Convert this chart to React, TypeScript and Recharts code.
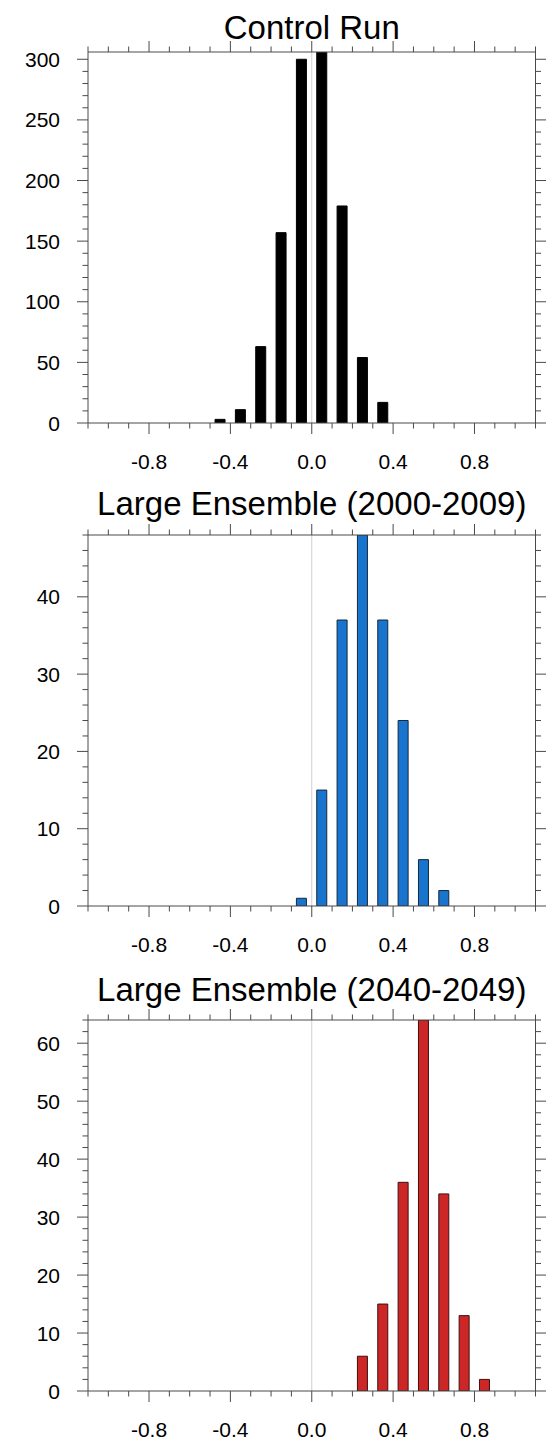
import React from "react";
import { BarChart, Bar, XAxis, YAxis, ReferenceLine } from "recharts";

// x axis (bin centres in deg C)
const xTicks = [
  -1.1, -1.0, -0.9, -0.8, -0.7, -0.6, -0.5, -0.4, -0.3, -0.2, -0.1, 0,
  0.1, 0.2, 0.3, 0.4, 0.5, 0.6, 0.7, 0.8, 0.9, 1.0, 1.1,
];
const xMajorTicks = [-0.8, -0.4, 0, 0.4, 0.8];
const xTickLabels = ["-0.8", "-0.4", "0.0", "0.4", "0.8"];

// Control Run
const controlBins = [-0.45, -0.35, -0.25, -0.15, -0.05, 0.05, 0.15, 0.25, 0.35];
const controlCounts = [3, 11, 63, 157, 300, 306, 179, 54, 17];
const controlYTicks = [
  0, 10, 20, 30, 40, 50, 60, 70, 80, 90, 100, 110, 120, 130, 140, 150, 160,
  170, 180, 190, 200, 210, 220, 230, 240, 250, 260, 270, 280, 290, 300,
];
const controlYMajor = [0, 50, 100, 150, 200, 250, 300];

// Large Ensemble 2000-2009
const le2000Bins = [-0.05, 0.05, 0.15, 0.25, 0.35, 0.45, 0.55, 0.65];
const le2000Counts = [1, 15, 37, 48, 37, 24, 6, 2];
const le2000YTicks = [
  0, 2, 4, 6, 8, 10, 12, 14, 16, 18, 20, 22, 24, 26, 28, 30, 32, 34, 36, 38,
  40, 42, 44, 46, 48,
];
const le2000YMajor = [0, 10, 20, 30, 40];

// Large Ensemble 2040-2049
const le2040Bins = [0.25, 0.35, 0.45, 0.55, 0.65, 0.75, 0.85];
const le2040Counts = [6, 15, 36, 64, 34, 13, 2];
const le2040YTicks = [
  0, 2, 4, 6, 8, 10, 12, 14, 16, 18, 20, 22, 24, 26, 28, 30, 32, 34, 36, 38,
  40, 42, 44, 46, 48, 50, 52, 54, 56, 58, 60, 62, 64,
];
const le2040YMajor = [0, 10, 20, 30, 40, 50, 60];

const FONT = "'Liberation Sans', Arial, Helvetica, sans-serif";
const AXIS = "#4a4a4a";
const MAJOR = 11;
const MINOR = 5.5;

const isIn = (v: number, list: number[]) => list.some((m) => Math.abs(m - v) < 1e-6);

const BottomTick = (props: any) => {
  const { x, y, payload } = props;
  const i = xMajorTicks.findIndex((m) => Math.abs(m - payload.value) < 1e-6);
  const major = i >= 0;
  return (
    <g>
      <line x1={x} x2={x} y1={y} y2={y + (major ? MAJOR : MINOR)} stroke={AXIS} strokeWidth={1} />
      {major && (
        <text x={x} y={y + 46} textAnchor="middle" fontSize={21} fontFamily={FONT} fill="#000">
          {xTickLabels[i]}
        </text>
      )}
    </g>
  );
};

const TopTick = (props: any) => {
  const { x, y, payload } = props;
  const major = isIn(payload.value, xMajorTicks);
  return <line x1={x} x2={x} y1={y} y2={y - (major ? MAJOR : MINOR)} stroke={AXIS} strokeWidth={1} />;
};

const makeLeftTick = (majors: number[]) => (props: any) => {
  const { x, y, payload } = props;
  const major = isIn(payload.value, majors);
  return (
    <g>
      <line x1={x} x2={x - (major ? MAJOR : MINOR)} y1={y} y2={y} stroke={AXIS} strokeWidth={1} />
      {major && (
        <text x={x - 28} y={y + 7.5} textAnchor="end" fontSize={21} fontFamily={FONT} fill="#000">
          {String(payload.value)}
        </text>
      )}
    </g>
  );
};

const makeRightTick = (majors: number[]) => (props: any) => {
  const { x, y, payload } = props;
  const major = isIn(payload.value, majors);
  return <line x1={x} x2={x + (major ? MAJOR : MINOR)} y1={y} y2={y} stroke={AXIS} strokeWidth={1} />;
};

type PanelProps = {
  title: string;
  bins: number[];
  counts: number[];
  fill: string;
  stroke: string;
  yTicks: number[];
  yMajor: number[];
  top: number;
  titleTop: number;
};

function Panel({ title, bins, counts, fill, stroke, yTicks, yMajor, top, titleTop }: PanelProps) {
  const data = bins.map((b, i) => ({ bin: b, count: counts[i] }));
  const yMax = Math.max(...counts);
  return (
    <>
      <div
        style={{
          position: "absolute",
          left: 88,
          width: 447.5,
          top: titleTop,
          textAlign: "center",
          fontFamily: FONT,
          fontSize: 33,
          lineHeight: "33px",
          color: "#000",
          whiteSpace: "nowrap",
        }}
      >
        {title}
      </div>
      <div style={{ position: "absolute", left: 0, top }}>
        <BarChart width={546} height={451} data={data} margin={{ top: 0, right: 0, bottom: 0, left: 0 }}>
          <XAxis
            xAxisId="b"
            dataKey="bin"
            type="number"
            domain={[-1.1, 1.1]}
            allowDataOverflow
            ticks={xTicks}
            interval={0}
            height={60}
            tickSize={0}
            tickMargin={0}
            tickLine={false}
            axisLine={{ stroke: AXIS, strokeWidth: 1 }}
            tick={BottomTick}
          />
          <XAxis
            xAxisId="t"
            dataKey="bin"
            orientation="top"
            type="number"
            domain={[-1.1, 1.1]}
            allowDataOverflow
            ticks={xTicks}
            interval={0}
            height={20}
            tickSize={0}
            tickMargin={0}
            tickLine={false}
            axisLine={{ stroke: AXIS, strokeWidth: 1 }}
            tick={TopTick}
          />
          <YAxis
            yAxisId="l"
            type="number"
            domain={[0, yMax]}
            allowDataOverflow
            ticks={yTicks}
            interval={0}
            width={88}
            tickSize={0}
            tickMargin={0}
            tickLine={false}
            axisLine={{ stroke: AXIS, strokeWidth: 1 }}
            tick={makeLeftTick(yMajor)}
          />
          <YAxis
            yAxisId="r"
            orientation="right"
            type="number"
            domain={[0, yMax]}
            allowDataOverflow
            ticks={yTicks}
            interval={0}
            width={10.5}
            tickSize={0}
            tickMargin={0}
            tickLine={false}
            axisLine={{ stroke: AXIS, strokeWidth: 1 }}
            tick={makeRightTick(yMajor)}
          />
          <ReferenceLine xAxisId="b" yAxisId="l" x={0} stroke="#cfcfcf" strokeWidth={1} />
          {/* invisible copy so the top / right frame axes get a proper scale */}
          <Bar
            xAxisId="t"
            yAxisId="r"
            dataKey="count"
            barSize={10}
            fill="none"
            stroke="none"
            isAnimationActive={false}
          />
          <Bar
            xAxisId="b"
            yAxisId="l"
            dataKey="count"
            barSize={10}
            fill={fill}
            stroke={stroke}
            strokeWidth={1}
            isAnimationActive={false}
          />
        </BarChart>
      </div>
    </>
  );
}

export default function App() {
  return (
    <div style={{ position: "absolute", left: 0, top: 0, width: 546, height: 1440, background: "#fff" }}>
      <Panel
        title="Control Run"
        bins={controlBins}
        counts={controlCounts}
        fill="#000000"
        stroke="#000000"
        yTicks={controlYTicks}
        yMajor={controlYMajor}
        top={32}
        titleTop={11}
      />
      <Panel
        title="Large Ensemble (2000-2009)"
        bins={le2000Bins}
        counts={le2000Counts}
        fill="#1874CD"
        stroke="#14283f"
        yTicks={le2000YTicks}
        yMajor={le2000YMajor}
        top={515}
        titleTop={487}
      />
      <Panel
        title="Large Ensemble (2040-2049)"
        bins={le2040Bins}
        counts={le2040Counts}
        fill="#CD2626"
        stroke="#3f1010"
        yTicks={le2040YTicks}
        yMajor={le2040YMajor}
        top={1000}
        titleTop={973}
      />
    </div>
  );
}
